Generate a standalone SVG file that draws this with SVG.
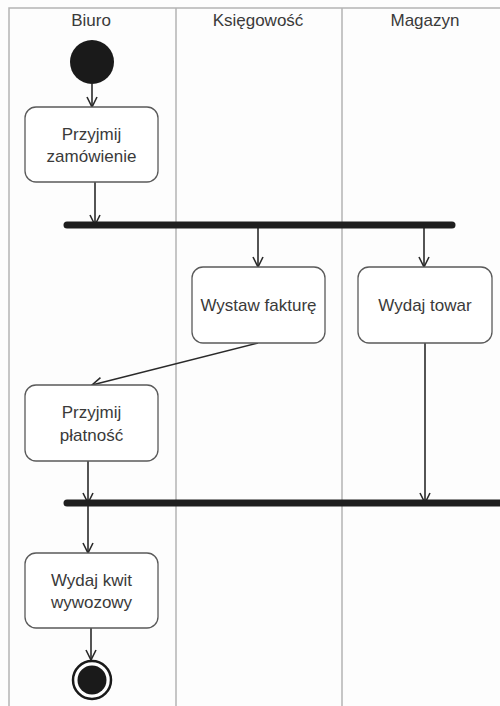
<svg xmlns="http://www.w3.org/2000/svg" width="500" height="706" viewBox="0 0 500 706">
<defs>
<style>
.lane{stroke:#b4b4b4;stroke-width:1.5;fill:none}
.hdr{font-family:"Liberation Sans",Arial,sans-serif;font-size:17px;fill:#3a3a3a;text-anchor:middle}
.act rect{fill:#fff;stroke:#5a5a5a;stroke-width:1.3}
.act text{font-family:"Liberation Sans",Arial,sans-serif;font-size:17px;fill:#3a3a3a;text-anchor:middle}
.bar{stroke:#1e1e1e;stroke-width:7;stroke-linecap:round}
.edge{stroke:#2a2a2a;stroke-width:1.6;fill:none;marker-end:url(#arr)}
</style>
<marker id="arr" viewBox="0 0 12 12" refX="11" refY="6" markerWidth="12" markerHeight="12" markerUnits="userSpaceOnUse" orient="auto">
<path d="M1,1 L11,6 L1,11" fill="none" stroke="#2a2a2a" stroke-width="1.6"/>
</marker>
</defs>
<rect width="500" height="706" fill="#fdfdfd"/>
<g id="lanes">
<path class="lane" d="M9,706 V8 H500 M176,8 V706 M342,8 V706"/>
<text class="hdr" x="91" y="26">Biuro</text>
<text class="hdr" x="258" y="26">Księgowość</text>
<text class="hdr" x="425" y="26">Magazyn</text>
</g>
<g id="connectors">
<line class="edge" x1="92" y1="84" x2="92" y2="107"/>
<line class="edge" x1="95" y1="182" x2="95" y2="225"/>
<line class="edge" x1="258" y1="225" x2="258" y2="267"/>
<line class="edge" x1="424" y1="225" x2="424" y2="267"/>
<line class="edge" x1="258" y1="343" x2="92" y2="385"/>
<line class="edge" x1="88" y1="461" x2="88" y2="503"/>
<line class="edge" x1="425" y1="343" x2="425" y2="503"/>
<line class="edge" x1="88" y1="503" x2="88" y2="553"/>
<line class="edge" x1="91" y1="628" x2="91" y2="660"/>
</g>
<g id="start"><circle cx="92" cy="62" r="22" fill="#1a1a1a"/></g>
<g id="fork"><line class="bar" x1="67" y1="225" x2="452" y2="225"/></g>
<g id="join"><line class="bar" x1="67" y1="503" x2="506" y2="503"/></g>
<g id="a1" class="act"><rect x="25" y="107" width="133" height="75" rx="11"/>
<text x="91.5" y="140">Przyjmij</text><text x="91.5" y="162">zamówienie</text></g>
<g id="a2" class="act"><rect x="192" y="267" width="133" height="76" rx="11"/>
<text x="258.5" y="311">Wystaw fakturę</text></g>
<g id="a3" class="act"><rect x="358" y="267" width="134" height="76" rx="11"/>
<text x="425" y="311">Wydaj towar</text></g>
<g id="a4" class="act"><rect x="25" y="385" width="133" height="76" rx="11"/>
<text x="91.5" y="418">Przyjmij</text><text x="91.5" y="441">płatność</text></g>
<g id="a5" class="act"><rect x="25" y="553" width="133" height="75" rx="11"/>
<text x="91.5" y="586">Wydaj kwit</text><text x="91.5" y="608">wywozowy</text></g>
<g id="end"><circle cx="92" cy="680" r="19" fill="#fff" stroke="#1a1a1a" stroke-width="2.5"/>
<circle cx="92" cy="680" r="14.5" fill="#1a1a1a"/></g>
</svg>
